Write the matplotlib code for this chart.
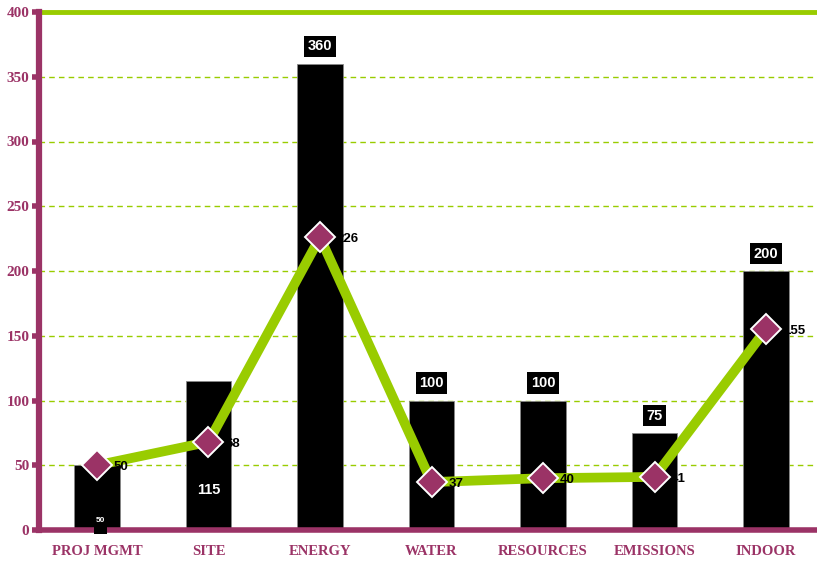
import matplotlib
matplotlib.use("Agg")
import matplotlib.pyplot as plt
import numpy as np

categories = ["PROJ MGMT", "SITE", "ENERGY", "WATER", "RESOURCES", "EMISSIONS", "INDOOR"]
bar_values = [50, 115, 360, 100, 100, 75, 200]
line_values = [50, 68, 226, 37, 40, 41, 155]
y_ticks = [0, 50, 100, 150, 200, 250, 300, 350, 400]

PURPLE = "#9b3366"
GREEN = "#99cc00"
LABEL_FONT = "Liberation Sans"
AXIS_FONT = "Liberation Serif"

fig = plt.figure(figsize=(8.17, 5.63), dpi=100)
ax = fig.add_axes([39 / 817, 1 - 530 / 563, 1 - 39 / 817, (530 - 12) / 563])

x = np.arange(len(categories))
ax.bar(x, bar_values, width=0.41, color="black", edgecolor="#888888",
       linewidth=0.6, zorder=2)

# green trend line with diamond markers
ax.plot(x, line_values, color=GREEN, lw=7, solid_capstyle="projecting",
        solid_joinstyle="miter", zorder=3)
ax.plot(x, line_values, linestyle="none", marker="D", ms=15, mfc=PURPLE,
        mec="white", mew=1.4, zorder=4)

# line value labels, right of each marker
for xi, v in zip(x, line_values):
    ax.annotate(str(v), (xi, v), xytext=(12, -1.5), textcoords="offset points",
                ha="left", va="center", fontsize=9.5, fontweight="bold",
                family=LABEL_FONT, color="black", zorder=3.5)

# bar value labels in black boxes
box = dict(boxstyle="square,pad=0.25", fc="black", ec="none")
for xi, v in zip(x, bar_values):
    if v == 50:
        ax.text(xi + 0.03, 10, str(v) + "\n ", ha="center", va="top",
                fontsize=6, fontweight="bold", family=LABEL_FONT,
                color="white", zorder=6, linespacing=1.3,
                bbox=dict(boxstyle="square,pad=0.2", fc="black", ec="none"),
                clip_on=False)
    elif v == 115:
        ax.text(xi, 31, str(v), ha="center", va="center", fontsize=10.5,
                fontweight="bold", family=LABEL_FONT, color="white", zorder=5)
    else:
        ax.annotate(str(v), (xi, v), xytext=(0, 12.5), textcoords="offset points",
                    ha="center", va="center", fontsize=10.5, fontweight="bold",
                    family=LABEL_FONT, color="white", bbox=box, zorder=5,
                    annotation_clip=False)

ax.set_xlim(-0.52, 6.457)
ax.set_ylim(0, 400)

# grid
for t in y_ticks[1:]:
    ax.axhline(t, color=GREEN, lw=1, ls=(0, (4, 3)), zorder=1)
ax.axhline(400, color=GREEN, lw=3.5, zorder=1.5, clip_on=False)

for side in ["top", "right"]:
    ax.spines[side].set_visible(False)
ax.spines["left"].set_color(PURPLE)
ax.spines["left"].set_linewidth(4.5)
ax.spines["bottom"].set_color(PURPLE)
ax.spines["bottom"].set_linewidth(4)
ax.spines["left"].set_zorder(5)
ax.spines["bottom"].set_zorder(5)

ax.set_yticks(y_ticks)
ax.set_yticklabels([str(t) for t in y_ticks])
ax.set_xticks(x)
ax.set_xticklabels(categories)
ax.tick_params(axis="y", length=5, width=4, color=PURPLE, pad=2,
               labelcolor=PURPLE, labelsize=11)
ax.tick_params(axis="x", length=0, pad=11, labelcolor=PURPLE, labelsize=10.5)
for lbl in ax.get_yticklabels() + ax.get_xticklabels():
    lbl.set_fontfamily(AXIS_FONT)
    lbl.set_fontweight("bold")

fig.savefig("out.png", dpi=100)
